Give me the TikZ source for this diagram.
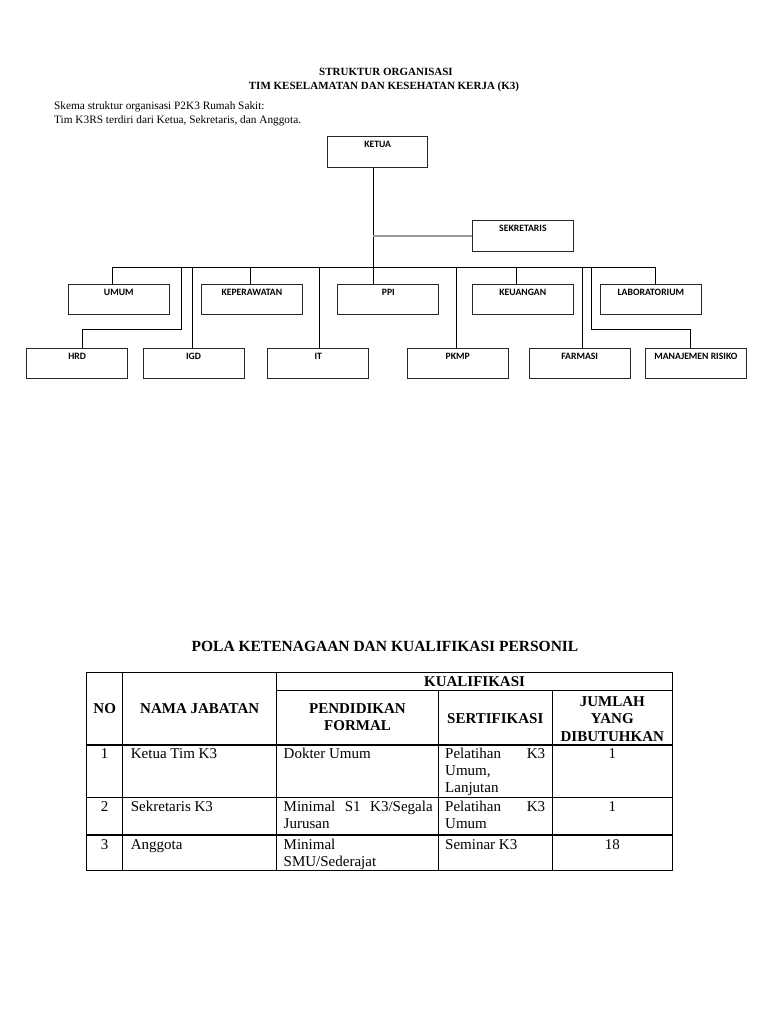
\documentclass[tikz,border=0pt]{standalone}
\usepackage{fontspec}
\setmainfont{Liberation Serif}
\newfontfamily\boxfont{Carlito}
\begin{document}
\begin{tikzpicture}[x=1pt,y=-1pt,
  orgbox/.style={draw=black!85, line width=0.9pt, inner sep=0pt, minimum width=101pt, minimum height=30.5pt},
  boxlabel/.style={font=\boxfont\bfseries\fontsize{9.7}{11}\selectfont, anchor=base, inner sep=0pt},
  link/.style={line width=0.9pt, black},
  graylink/.style={line width=1.8pt, black!40},
  tline/.style={line width=1.2pt, black},
  titlef/.style={font=\bfseries\fontsize{11}{12}\selectfont, anchor=base, inner sep=0pt},
  bodyf/.style={font=\fontsize{11.3}{12}\selectfont, anchor=base west, inner sep=0pt},
  th/.style={font=\bfseries\fontsize{15}{17}\selectfont, anchor=base, inner sep=0pt},
  td/.style={font=\fontsize{15}{17}\selectfont, anchor=base west, inner sep=0pt},
  tdc/.style={font=\fontsize{15}{17}\selectfont, anchor=base, inner sep=0pt},
]
\useasboundingbox (0,0) rectangle (768,1024);
\fill[white] (0,0) rectangle (768,1024);

% ---------- heading ----------
\node[titlef] (t1) at (386,75.3) {STRUKTUR ORGANISASI};
\node[titlef] (t2) at (384,90) {TIM KESELAMATAN DAN KESEHATAN KERJA (K3)};
\node[bodyf] (b1) at (54,110) {Skema struktur organisasi P2K3 Rumah Sakit:};
\node[bodyf] (b2) at (54,123.5) {Tim K3RS terdiri dari Ketua, Sekretaris, dan Anggota.};

% ---------- org chart boxes ----------
\node[orgbox, minimum width=100pt] (ketua) at (377.7,152) {};
\node[orgbox] (sekr) at (522.9,235.85) {};
\node[orgbox] (umum) at (118.8,299.65) {};
\node[orgbox] (kep) at (251.85,299.65) {};
\node[orgbox] (ppi) at (388.35,299.65) {};
\node[orgbox] (keu) at (522.8,299.65) {};
\node[orgbox] (lab) at (650.85,299.65) {};
\node[orgbox, minimum height=30pt] (hrd) at (77.2,363.3) {};
\node[orgbox, minimum height=30pt] (igd) at (193.5,363.3) {};
\node[orgbox, minimum height=30pt] (it) at (318.3,363.3) {};
\node[orgbox, minimum height=30pt] (pkmp) at (457.7,363.3) {};
\node[orgbox, minimum height=30pt] (farm) at (579.65,363.3) {};
\node[orgbox, minimum height=30pt] (mr) at (695.85,363.3) {};

\foreach \n/\t in {ketua/KETUA, sekr/SEKRETARIS, umum/UMUM, kep/KEPERAWATAN, ppi/PPI, keu/KEUANGAN, lab/LABORATORIUM, hrd/HRD, igd/IGD, it/IT, pkmp/PKMP, farm/FARMASI, mr/MANAJEMEN RISIKO}
  \node[boxlabel] (\n-l) at ([yshift=-11.5pt]\n.north) {\t};

% ---------- connectors ----------
\coordinate (trunk) at (373.3,267);
\coordinate (bl) at (112.7,267);
\coordinate (br) at (655,267);
\draw[link] (ketua.south -| trunk) -- (ppi.north -| trunk);
\draw[graylink] (trunk |- sekr.west) -- (sekr.west);
\draw[link] (bl) -- (br);
\draw[link] (bl) -- (bl |- umum.north);
\coordinate (dHrd) at (181.7,267); \coordinate (eHrd) at (82.3,329);
\draw[link] (dHrd) |- (eHrd) -- (eHrd |- hrd.north);
\coordinate (dIgd) at (192.3,267); \draw[link] (dIgd) -- (dIgd |- igd.north);
\coordinate (dKep) at (250,267); \draw[link] (dKep) -- (dKep |- kep.north);
\coordinate (dIt) at (319,267); \draw[link] (dIt) -- (dIt |- it.north);
\coordinate (dPkmp) at (456.5,267); \draw[link] (dPkmp) -- (dPkmp |- pkmp.north);
\coordinate (dKeu) at (516,267); \draw[link] (dKeu) -- (dKeu |- keu.north);
\coordinate (dFarm) at (582.3,267); \draw[link] (dFarm) -- (dFarm |- farm.north);
\coordinate (dMr) at (591.7,267); \coordinate (eMr) at (690.7,329);
\draw[link] (dMr) |- (eMr) -- (eMr |- mr.north);
\draw[link] (br) -- (br |- lab.north);

% ---------- table ----------
\node[font=\bfseries\fontsize{15.5}{17}\selectfont, anchor=base, inner sep=0pt] (tt) at (385,651) {POLA KETENAGAAN DAN KUALIFIKASI PERSONIL};

\draw[tline] (86.7,672.7) rectangle (672.3,870.7);
\draw[tline] (276.7,690.7) -- (672.3,690.7);
\draw[tline] (86.7,745) -- (672.3,745);
\draw[tline] (86.7,797.7) -- (672.3,797.7);
\draw[tline] (86.7,835) -- (672.3,835);
\draw[tline] (122.7,672.7) -- (122.7,870.7);
\draw[tline] (276.7,672.7) -- (276.7,870.7);
\draw[tline] (438.3,690.7) -- (438.3,870.7);
\draw[tline] (552.3,690.7) -- (552.3,870.7);

% header
\node[th] (hk) at (474.5,686.5) {KUALIFIKASI};
\node[th] (hno) at (104.7,713.3) {NO};
\node[th] (hnama) at (199.7,713.3) {NAMA JABATAN};
\node[th] (hpend1) at (357.5,713.3) {PENDIDIKAN};
\node[th] (hpend2) at (357.5,730.5) {FORMAL};
\node[th] (hsert) at (495.3,723) {SERTIFIKASI};
\node[th] (hj1) at (612.3,706.7) {JUMLAH};
\node[th] (hj2) at (612.3,723.8) {YANG};
\node[th] (hj3) at (612.3,741) {DIBUTUHKAN};

% row 1
\node[tdc] (r1no) at (104.7,758.5) {1};
\node[td] (r1n) at (130.7,758.5) {Ketua Tim K3};
\node[td] (r1p) at (283.5,758.5) {Dokter Umum};
\node[td] (r1s1) at (445,758.5) {\makebox[100pt][s]{Pelatihan K3}};
\node[td] (r1s2) at (445,775.5) {Umum,};
\node[td] (r1s3) at (445,792.5) {Lanjutan};
\node[tdc] (r1j) at (612.3,758.5) {1};

% row 2
\node[tdc] (r2no) at (104.7,811.5) {2};
\node[td] (r2n) at (130.7,811.5) {Sekretaris K3};
\node[td] (r2p1) at (283.5,811.5) {\makebox[149pt][s]{Minimal S1 K3/Segala}};
\node[td] (r2p2) at (283.5,828.5) {Jurusan};
\node[td] (r2s1) at (445,811.5) {\makebox[100pt][s]{Pelatihan K3}};
\node[td] (r2s2) at (445,828.5) {Umum};
\node[tdc] (r2j) at (612.3,811.5) {1};

% row 3
\node[tdc] (r3no) at (104.7,849) {3};
\node[td] (r3n) at (130.7,849) {Anggota};
\node[td] (r3p1) at (283.5,849) {Minimal};
\node[td] (r3p2) at (283.5,866) {SMU/Sederajat};
\node[td] (r3s) at (445,849) {Seminar K3};
\node[tdc] (r3j) at (612.3,849) {18};
\end{tikzpicture}
\end{document}
